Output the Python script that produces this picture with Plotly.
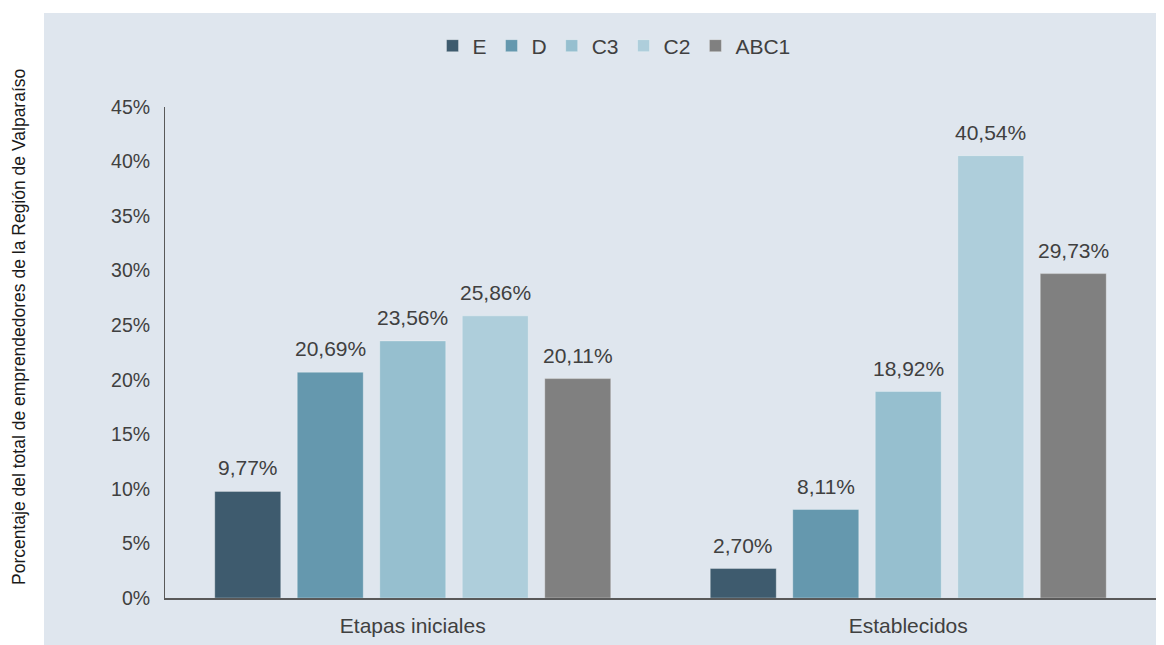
import plotly.graph_objects as go

categories = ["Etapas iniciales", "Establecidos"]
series_names = ["E", "D", "C3", "C2", "ABC1"]
values_E = [9.77, 2.70]
values_D = [20.69, 8.11]
values_C3 = [23.56, 18.92]
values_C2 = [25.86, 40.54]
values_ABC1 = [20.11, 29.73]
series_values = [values_E, values_D, values_C3, values_C2, values_ABC1]
colors = ["#3E5B6E", "#6598AE", "#96BFCF", "#AECEDB", "#808080"]
y_ticks = [0, 5, 10, 15, 20, 25, 30, 35, 40, 45]
y_tick_labels = ["0%", "5%", "10%", "15%", "20%", "25%", "30%", "35%", "40%", "45%"]

FONT = "Liberation Sans, Arial, sans-serif"
TXT = "#404040"
PANEL = "#DFE6EE"
BARGAP = 0.1675
BARGROUPGAP = 0.2

# the page body has an 8px margin: figure occupies window area (8,8)-(1164,645)
OFF = 8
W, H = 1164 - OFF, 645 - OFF
L, R, T, B = 165 - OFF, 8, 107 - OFF, 47
pw, ph = W - L - R, H - T - B


def px_x(x):  # window pixel -> paper x
    return (x - OFF - L) / pw


def px_y(y):  # window pixel -> paper y
    return (H - B - (y - OFF)) / ph


fig = go.Figure()
for name, vals, col in zip(series_names, series_values, colors):
    fig.add_trace(go.Bar(
        name=name, x=categories, y=vals,
        marker=dict(color=col, line=dict(color="rgba(255,255,255,0.3)", width=1)),
        hoverinfo="skip",
    ))

# data labels
n = len(series_names)
annotations = []
for i, vals in enumerate(series_values):
    for c, v in enumerate(vals):
        annotations.append(dict(
            x=c + (i - (n - 1) / 2) * (1 - BARGAP) / n, y=v, xref="x", yref="y",
            text=f"{v:.2f}".replace(".", ",") + "%", showarrow=False,
            yanchor="bottom", yshift=10,
            font=dict(family=FONT, size=21, color=TXT),
        ))

annotations.append(dict(
    x=px_x(19), y=px_y(327), xref="paper", yref="paper",
    text="Porcentaje del total de emprendedores de la Región de Valparaíso",
    textangle=-90, showarrow=False, xanchor="center", yanchor="middle",
    font=dict(family=FONT, size=17.5, color="#1a1a1a"),
))

fig.update_layout(
    width=W, height=H,
    margin=dict(l=L, r=R, t=T, b=B, pad=0),
    paper_bgcolor="white",
    plot_bgcolor="rgba(0,0,0,0)",
    barmode="group", bargap=BARGAP, bargroupgap=BARGROUPGAP,
    font=dict(family=FONT, size=21, color=TXT),
    shapes=[dict(type="rect", xref="paper", yref="paper",
                 x0=px_x(44), x1=px_x(1170), y0=px_y(652), y1=px_y(13),
                 fillcolor=PANEL, line=dict(width=0), layer="below")],
    legend=dict(orientation="h", x=px_x(614), xanchor="center", y=px_y(46), yanchor="middle",
                font=dict(family=FONT, size=21, color=TXT), itemwidth=30,
                bgcolor="rgba(0,0,0,0)", traceorder="normal"),
    annotations=annotations,
    showlegend=True,
)
fig.update_xaxes(showline=True, linecolor="#595959", linewidth=2, showgrid=False,
                 ticks="", ticklabelstandoff=8, tickfont=dict(family=FONT, size=21, color=TXT),
                 fixedrange=True)
fig.update_yaxes(range=[0, 45], tickmode="array", tickvals=y_ticks, ticktext=y_tick_labels,
                 showline=True, linecolor="#595959", linewidth=1, showgrid=False, zeroline=False,
                 ticks="", ticklabelstandoff=10, tickfont=dict(family=FONT, size=19.5, color=TXT),
                 fixedrange=True)

fig.write_html("out.html")
